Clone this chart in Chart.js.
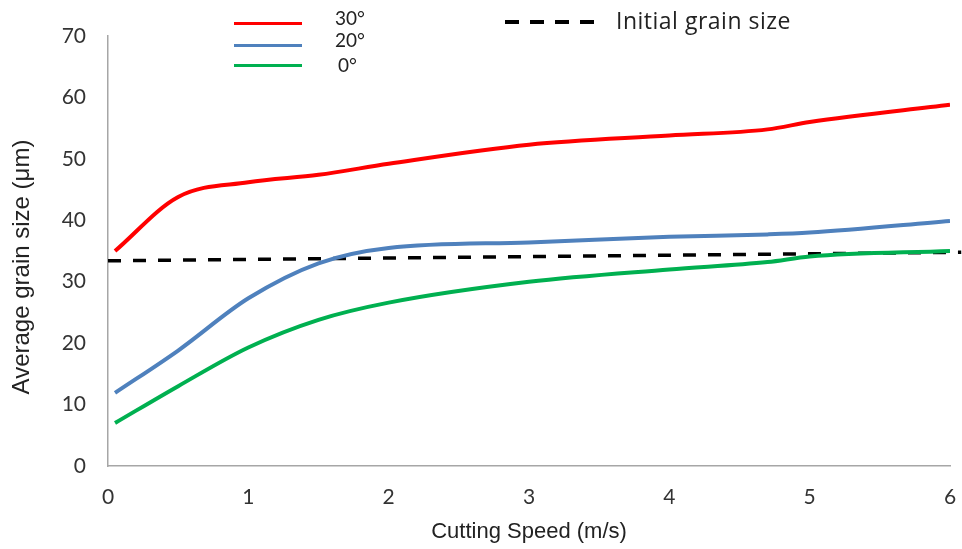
<!DOCTYPE html>
<html>
<head>
<meta charset="utf-8">
<script src="https://cdn.jsdelivr.net/npm/chart.js@4"></script>
<style>
  body { margin: 0; background: #fff; }
  #wrap { position: relative; width: 962px; height: 549px; overflow: hidden; }
  .key-line { position: absolute; height: 3px; }
  .key-text { position: absolute; font-family: Lato, "Open Sans", sans-serif; color: #222; line-height: 1; white-space: nowrap; }
  #y-title {
      position: absolute; left: -129px; top: 255px; width: 300px; height: 24px;
      text-align: center; line-height: 24px; white-space: nowrap;
      font-family: "Liberation Sans", Arial, sans-serif; font-size: 24px; color: #222;
      transform: rotate(-90deg);
  }
</style>
</head>
<body>
<div id="wrap">
  <canvas id="grain-chart" width="962" height="549"></canvas>

  <!-- legend, placed like the original -->
  <div class="key-line" style="left:234px; top:22px; width:68px; background:#ff0000;"></div>
  <div class="key-line" style="left:234px; top:44px; width:68px; background:#4f81bd;"></div>
  <div class="key-line" style="left:234px; top:64px; width:68px; background:#00b050;"></div>
  <div class="key-text" style="left:335px; top:8px; font-size:19px;">30°</div>
  <div class="key-text" style="left:335px; top:30px; font-size:19px;">20°</div>
  <div class="key-text" style="left:338px; top:55px; font-size:19px;">0°</div>
  <div class="key-line" style="left:505px; top:20px; width:89px; height:4px;
       background:repeating-linear-gradient(to right, #000 0 14px, transparent 14px 25px);"></div>
  <div class="key-text" style="left:616px; top:9px; font-size:23px; letter-spacing:0.5px;
       font-family:'Open Sans', Lato, sans-serif;">Initial grain size</div>

  <div id="y-title">Average grain size (μm)</div>
</div>

<script>
// Cutting speed (m/s) where the curves are read
const speeds = [0.05, 0.5, 1, 1.5, 2, 3, 4, 4.7, 5, 6];

// Average grain size (µm) per rake angle
const grain30 = [35, 43.8, 46.2, 47.4, 49.2, 52.3, 53.8, 54.8, 56, 58.8];
const grain20 = [11.9, 18.8, 27.3, 33, 35.5, 36.4, 37.3, 37.7, 38, 39.9];
const grain0 = [7, 13, 19.3, 23.8, 26.6, 30, 32, 33.2, 34.1, 35];

// Initial grain size reference line
const initialSpeeds = [0, 6.08];
const initialGrain = [33.4, 34.8];

function toPoints(xs, ys) {
    return xs.map((x, i) => ({ x: x, y: ys[i] }));
}

function curve(label, values, color) {
    return {
        label: label,
        data: toPoints(speeds, values),
        borderColor: color,
        borderWidth: 4,
        pointRadius: 0,
        cubicInterpolationMode: 'monotone',
        fill: false
    };
}

const tickFont = { family: 'Lato, "Open Sans", sans-serif', size: 21 };

new Chart(document.getElementById('grain-chart').getContext('2d'), {
    type: 'line',
    data: {
        datasets: [
            curve('30°', grain30, '#ff0000'),
            curve('20°', grain20, '#4f81bd'),
            curve('0°', grain0, '#00b050'),
            {
                label: 'Initial grain size',
                data: toPoints(initialSpeeds, initialGrain),
                borderColor: '#000',
                borderWidth: 3.5,
                borderDash: [13, 12],
                pointRadius: 0,
                clip: false
            }
        ]
    },
    options: {
        responsive: false,
        animation: false,
        devicePixelRatio: 1,
        layout: { padding: { top: 36, right: 12, left: 0, bottom: 0 } },
        plugins: {
            legend: { display: false },
            tooltip: { enabled: false }
        },
        scales: {
            x: {
                type: 'linear',
                min: 0,
                max: 6,
                grid: { display: false, drawTicks: false },
                border: { color: '#a6a6a6', width: 1.5 },
                ticks: { stepSize: 1, color: '#333', font: tickFont, padding: 19 },
                title: {
                    display: true,
                    text: 'Cutting Speed (m/s)',
                    color: '#222',
                    font: { family: '"Liberation Sans", Arial, sans-serif', size: 22 },
                    padding: { top: 0, bottom: 4 }
                },
                afterFit: scale => {
                    scale.height = 83;
                    scale.paddingLeft = 0;
                    scale.paddingRight = 0;
                }
            },
            y: {
                min: 0,
                max: 70,
                grid: { display: false, drawTicks: false },
                border: { color: '#a6a6a6', width: 1.5 },
                ticks: { stepSize: 10, color: '#333', font: tickFont, padding: 22 },
                title: { display: false },
                afterFit: scale => {
                    scale.width = 108;
                    scale.paddingTop = 0;
                    scale.paddingBottom = 0;
                }
            }
        }
    }
});
</script>
</body>
</html>
